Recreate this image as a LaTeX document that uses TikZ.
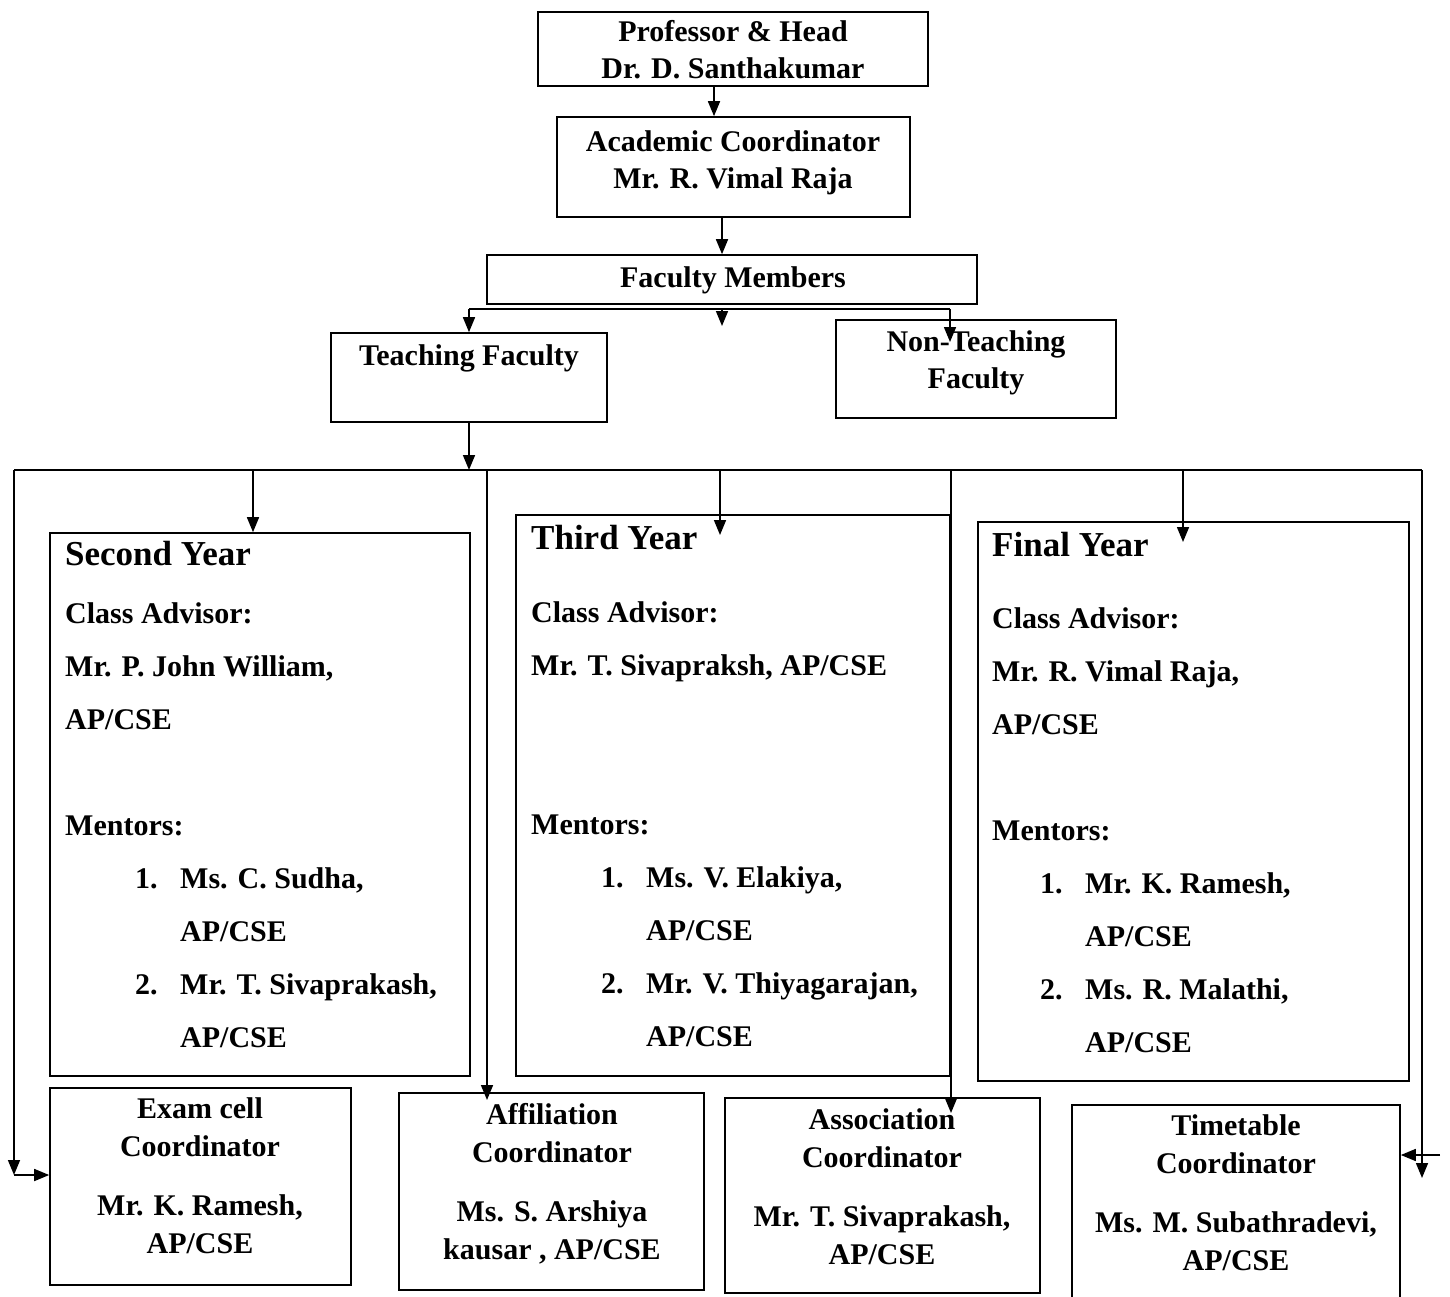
\documentclass[tikz,border=0pt]{standalone}
\usepackage{fontspec}
\setmainfont{Liberation Serif}
\usepackage{tikz}
\usetikzlibrary{arrows.meta}

\newcommand{\mentorline}[3]{\hspace*{#1}\makebox[45pt][l]{#2}#3}
\newcommand{\mentornext}[2]{\hspace*{#1}\hspace*{45pt}#2}

\begin{document}
\begin{tikzpicture}[x=1pt,y=-1pt,
  box/.style={draw, line width=1.6pt, inner sep=0pt},
  txt/.style={font=\fontsize{30}{37}\selectfont\bfseries, align=center, inner sep=0pt},
  small/.style={font=\fontsize{30}{38}\selectfont\bfseries, align=center, inner sep=0pt},
  head/.style={font=\fontsize{35}{40}\selectfont\bfseries, anchor=north west, inner sep=0pt},
  body/.style={font=\fontsize{30}{53}\selectfont\bfseries, align=left, anchor=north west, inner sep=0pt},
  conn/.style={line width=1.6pt},
  arr/.style={conn, -{Triangle[length=15pt,width=12pt]}}]
\useasboundingbox (0,0) rectangle (1450,1297);

% upper boxes
\node[box, minimum width=390pt, minimum height=74pt] (prof) at (733,49) {};
\node[txt] (proftxt) at (733,50) {Professor \& Head\\Dr. D. Santhakumar};
\node[box, minimum width=353pt, minimum height=100pt] (acad) at (733.5,167) {};
\node[txt] (acadtxt) at (733,163) {Academic Coordinator\\Mr. R. Vimal Raja};
\node[box, minimum width=490pt, minimum height=49pt] (fac) at (732,279.5) {};
\node[txt] (factxt) at (733,280) {Faculty Members};
\node[box, minimum width=276pt, minimum height=89pt] (teach) at (469,377.5) {};
\node[txt] (teachtxt) at (469,358) {Teaching Faculty};
\node[box, minimum width=280pt, minimum height=98pt] (nonteach) at (976,369) {};
\node[txt] (nonteachtxt) at (976,363) {Non-Teaching\\Faculty};

% year boxes
\node[box, minimum width=420pt, minimum height=543pt] (second) at (260,804.5) {};
\node[head] (secondhead) at (65,541) {Second Year};
\node[body] (secondbody) at (65,602) {Class Advisor:\\
  Mr. P. John William,\\
  AP/CSE\\[53pt]
  Mentors:\\
  \mentorline{70pt}{1.}{Ms. C. Sudha,}\\
  \mentornext{70pt}{AP/CSE}\\
  \mentorline{70pt}{2.}{Mr. T. Sivaprakash,}\\
  \mentornext{70pt}{AP/CSE}};

\node[box, minimum width=434pt, minimum height=561pt] (third) at (733,795.5) {};
\node[head] (thirdhead) at (531,525) {Third Year};
\node[body] (thirdbody) at (531,601) {Class Advisor:\\
  Mr. T. Sivapraksh, AP/CSE\\[106pt]
  Mentors:\\
  \mentorline{70pt}{1.}{Ms. V. Elakiya,}\\
  \mentornext{70pt}{AP/CSE}\\
  \mentorline{70pt}{2.}{Mr. V. Thiyagarajan,}\\
  \mentornext{70pt}{AP/CSE}};

\node[box, minimum width=431pt, minimum height=559pt] (final) at (1193.5,801.5) {};
\node[head] (finalhead) at (992,532) {Final Year};
\node[body] (finalbody) at (992,607) {Class Advisor:\\
  Mr. R. Vimal Raja,\\
  AP/CSE\\[53pt]
  Mentors:\\
  \mentorline{48pt}{1.}{Mr. K. Ramesh,}\\
  \mentornext{48pt}{AP/CSE}\\
  \mentorline{48pt}{2.}{Ms. R. Malathi,}\\
  \mentornext{48pt}{AP/CSE}};

% coordinator boxes
\node[box, minimum width=301pt, minimum height=197pt] (exam) at (200.5,1186.5) {};
\node[small] (examtxt) at (200,1176) {Exam cell\\Coordinator\\[21pt]Mr. K. Ramesh,\\AP/CSE};
\node[box, minimum width=305pt, minimum height=197pt] (affil) at (551.5,1191.5) {};
\node[small] (affiltxt) at (552,1184) {Affiliation\\Coordinator\\[21pt]Ms. S. Arshiya\\kausar , AP/CSE};
\node[box, minimum width=315pt, minimum height=195pt] (assoc) at (882.5,1195.5) {};
\node[small] (assoctxt) at (882,1187) {Association\\Coordinator\\[21pt]Mr. T. Sivaprakash,\\AP/CSE};
\node[box, minimum width=328pt, minimum height=210pt] (timet) at (1236,1210) {};
\node[small] (timettxt) at (1236,1193) {Timetable\\Coordinator\\[21pt]Ms. M. Subathradevi,\\AP/CSE};

% top chain
\draw[arr] ([xshift=-19pt]prof.south) -- ([xshift=-19pt]prof.south |- acad.north);
\draw[arr] ([xshift=-11.5pt]acad.south) -- ([xshift=-11.5pt]acad.south |- fac.north);

% faculty split
\coordinate (fbus) at ([yshift=-4pt]fac.south -| teach.north);
\coordinate (fmid) at (722,326);
\coordinate (ntdrop) at (950,342);
\draw[conn] (fbus) -- (fbus -| ntdrop);
\draw[arr] (fbus) -- (teach.north);
\draw[arr] (fbus -| fmid) -- (fmid);
\draw[arr] (fbus -| ntdrop) -- (ntdrop);

% teaching bus
\coordinate (busl) at (14,470);
\coordinate (busr) at (1422,470);
\coordinate (lcorner) at (14,1175);
\coordinate (rcorner) at (1422,1178);
\coordinate (afdrop) at (487,1100);
\coordinate (thdrop) at (720,535);
\coordinate (asdrop) at (951,1113);
\coordinate (fidrop) at (1183,542);
\coordinate (tside) at (1440,1155);
\draw[arr] (teach.south) -- (teach.south |- busl);
\draw[conn] (busl) -- (busr);
\draw[arr] ([xshift=-7pt]second.north |- busl) -- ([xshift=-7pt]second.north);
\draw[arr] (busl -| thdrop) -- (thdrop);
\draw[arr] (busl -| fidrop) -- (fidrop);
\draw[arr] (busl -| afdrop) -- (afdrop);
\draw[arr] (busl -| asdrop) -- (asdrop);
\draw[arr] (busl) -- (lcorner);
\draw[arr] (lcorner) -- (lcorner -| exam.west);
\draw[arr] (busr) -- (rcorner);
\draw[arr] (tside) -- (tside -| timet.east);
\end{tikzpicture}
\end{document}
